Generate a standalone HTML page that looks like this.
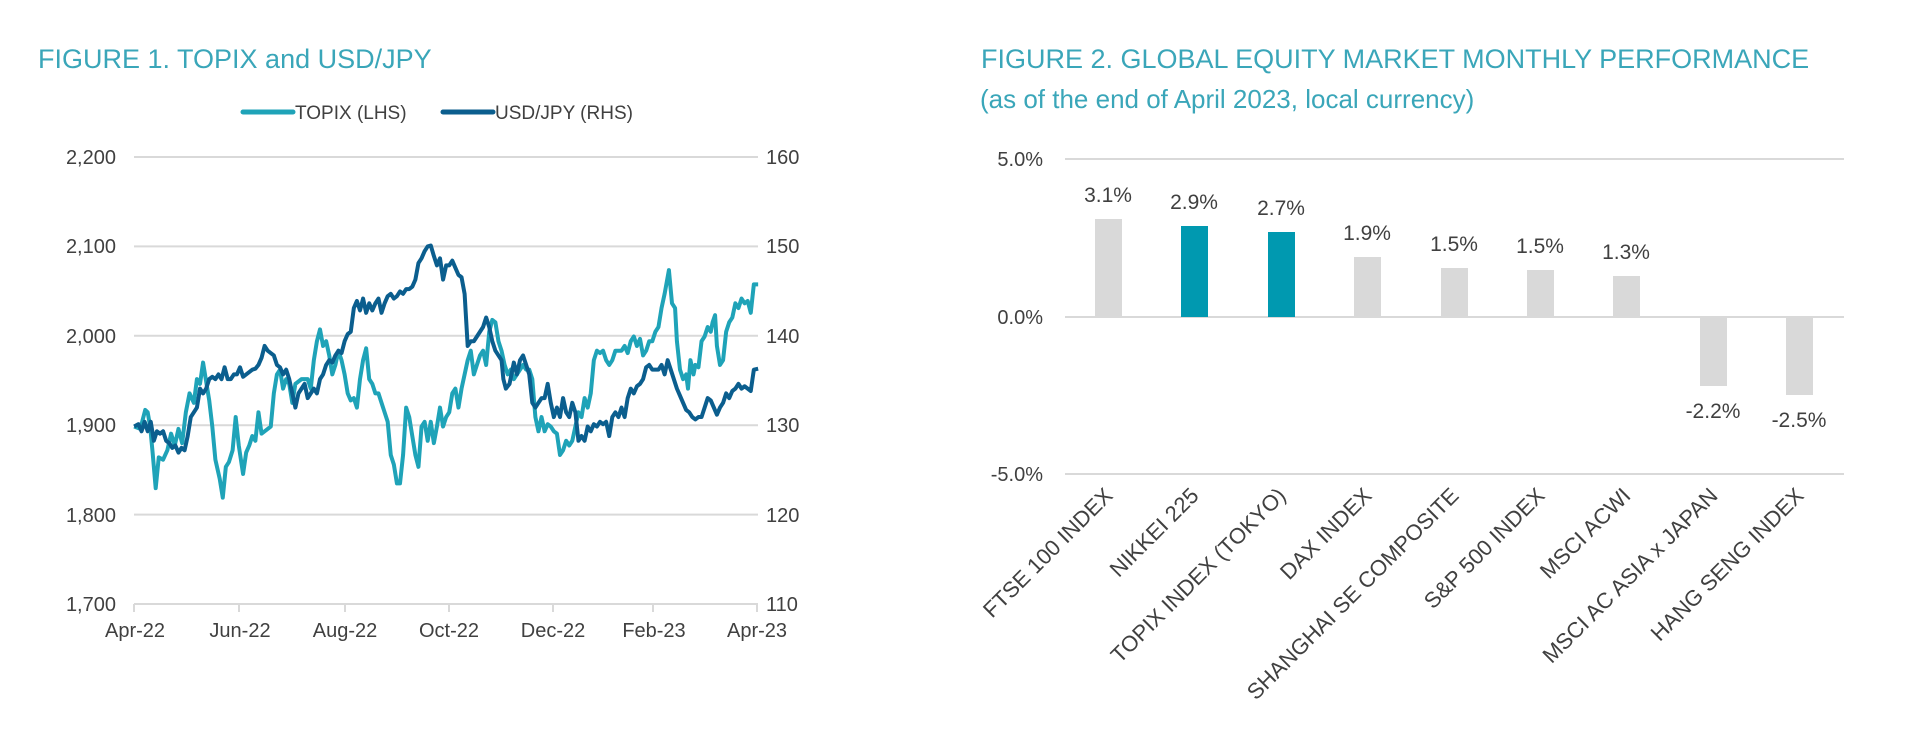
<!DOCTYPE html>
<html><head><meta charset="utf-8"><style>
html,body{margin:0;padding:0;background:#fff;}
body{width:1920px;height:739px;overflow:hidden;font-family:"Liberation Sans",sans-serif;}
</style></head><body>
<svg width="1920" height="739" viewBox="0 0 1920 739" xmlns="http://www.w3.org/2000/svg" font-family="Liberation Sans, sans-serif">
<!-- Figure 1 -->
<text x="38" y="68" font-size="27" fill="#3aa6b9">FIGURE 1. TOPIX and USD/JPY</text>
<line x1="243" y1="112" x2="293" y2="112" stroke="#1fa3b8" stroke-width="5" stroke-linecap="round"/>
<text x="295" y="119" font-size="19" fill="#404040">TOPIX (LHS)</text>
<line x1="443" y1="112" x2="493" y2="112" stroke="#0b5e8e" stroke-width="5" stroke-linecap="round"/>
<text x="495" y="119" font-size="19" fill="#404040">USD/JPY (RHS)</text>
<g stroke="#d9d9d9" stroke-width="2">
<line x1="134" y1="157" x2="758" y2="157"/>
<line x1="134" y1="246.4" x2="758" y2="246.4"/>
<line x1="134" y1="335.8" x2="758" y2="335.8"/>
<line x1="134" y1="425.2" x2="758" y2="425.2"/>
<line x1="134" y1="514.6" x2="758" y2="514.6"/>
<line x1="134" y1="604" x2="758" y2="604"/>
<line x1="134" y1="604" x2="134" y2="612"/><line x1="239" y1="604" x2="239" y2="612"/><line x1="345" y1="604" x2="345" y2="612"/><line x1="449" y1="604" x2="449" y2="612"/><line x1="553" y1="604" x2="553" y2="612"/><line x1="653" y1="604" x2="653" y2="612"/><line x1="757" y1="604" x2="757" y2="612"/>
</g>
<g font-size="20" fill="#404040" text-anchor="end">
<text x="116" y="164">2,200</text><text x="116" y="253">2,100</text><text x="116" y="343">2,000</text><text x="116" y="432">1,900</text><text x="116" y="522">1,800</text><text x="116" y="611">1,700</text>
</g>
<g font-size="20" fill="#404040">
<text x="766" y="164">160</text><text x="766" y="253">150</text><text x="766" y="343">140</text><text x="766" y="432">130</text><text x="766" y="522">120</text><text x="766" y="611">110</text>
</g>
<g font-size="20" fill="#404040" text-anchor="middle">
<text x="135" y="637">Apr-22</text><text x="240" y="637">Jun-22</text><text x="345" y="637">Aug-22</text><text x="449" y="637">Oct-22</text><text x="553" y="637">Dec-22</text><text x="654" y="637">Feb-23</text><text x="757" y="637">Apr-23</text>
</g>
<g transform="scale(0.61538,0.47393)" fill="none" stroke-linejoin="round">
<polyline vector-effect="non-scaling-stroke" stroke="#1fa3b8" stroke-width="4" points="218,900 228,905 236,865 240,870 244,900 248,955 253,1030 258,965 265,970 272,950 278,915 284,940 290,905 296,935 302,870 308,830 315,850 320,800 325,810 330,765 335,805 340,845 345,900 350,970 357,1010 362,1050 367,985 372,975 378,950 383,880 388,940 395,1000 400,955 405,940 410,920 415,930 420,870 425,915 430,910 440,900 445,830 450,790 455,780 460,820 465,800 470,810 475,850 480,810 490,800 500,800 505,820 510,760 515,720 520,695 525,730 530,720 535,750 540,790 545,770 550,740 555,760 560,790 565,830 570,845 575,840 580,860 585,800 590,760 595,735 600,800 605,810 610,830 615,830 620,850 625,870 630,890 635,960 640,980 645,1020 650,1020 655,960 660,860 665,880 670,920 675,960 680,985 685,900 690,890 695,930 700,890 705,935 710,900 715,860 720,900 725,880 730,870 735,830 740,820 745,860 750,820 755,790 760,760 765,740 770,790 775,770 780,750 785,740 790,770 795,700 800,675 805,680 810,720 815,740 820,770 825,790 830,780 835,800 840,790 850,770 855,780 860,780 865,800 870,880 875,910 880,880 885,910 890,895 895,900 900,910 905,915 910,960 915,950 920,930 925,940 930,930 935,900 940,870 945,880 950,840 955,860 960,830 965,760 970,740 975,745 980,740 985,760 990,770 995,760 1000,740 1010,740 1015,730 1020,745 1025,720 1030,710 1035,730 1040,715 1045,750 1050,740 1055,720 1060,720 1065,700 1070,690 1075,650 1080,620 1087,570 1092,640 1097,650 1100,720 1105,780 1110,800 1115,790 1118,820 1122,760 1127,790 1130,770 1135,775 1140,720 1145,710 1150,690 1155,700 1158,680 1162,665 1165,730 1170,770 1175,760 1180,700 1185,680 1190,670 1195,640 1200,650 1205,630 1210,640 1215,635 1220,660 1225,600 1232,600"/>
<polyline vector-effect="non-scaling-stroke" stroke="#0b5e8e" stroke-width="4" points="218,900 225,895 230,910 235,890 240,910 245,890 250,930 255,910 260,915 265,910 270,930 275,935 280,945 285,940 290,955 295,945 300,950 305,920 310,880 315,870 320,860 325,820 330,830 335,820 340,800 345,795 350,800 355,790 360,800 365,775 370,800 375,800 380,790 385,790 390,775 395,795 400,790 405,785 410,780 415,778 420,770 425,755 430,730 435,740 440,745 445,750 450,770 455,775 460,790 465,780 470,800 475,830 480,860 485,830 490,820 495,810 500,840 505,830 510,820 515,830 520,800 525,790 530,770 535,760 540,765 545,750 550,740 555,745 560,720 565,705 570,700 575,650 580,635 585,655 590,630 595,660 600,640 605,655 610,640 615,630 620,660 625,640 630,625 635,620 640,630 645,625 650,615 655,620 660,610 665,610 670,605 675,590 680,555 685,545 690,530 695,520 700,518 705,540 710,560 715,545 720,590 725,560 730,560 735,550 740,565 745,580 750,585 755,620 760,730 765,720 770,720 775,710 780,700 785,690 790,670 795,690 800,720 805,740 810,750 815,760 818,800 822,820 828,810 835,765 840,790 845,760 850,750 855,770 860,790 865,850 870,860 875,850 880,840 885,840 890,810 895,850 900,880 905,860 910,880 915,840 920,870 925,880 930,850 935,870 940,930 945,920 950,930 955,900 960,910 965,895 970,900 975,890 980,895 985,890 990,920 995,880 1000,870 1005,880 1010,860 1015,880 1020,840 1025,820 1030,830 1035,815 1040,810 1045,800 1050,775 1055,770 1060,780 1065,780 1070,780 1075,770 1080,790 1085,760 1090,780 1095,800 1100,820 1105,835 1110,850 1115,865 1120,870 1125,880 1130,885 1135,880 1140,880 1145,860 1150,840 1155,845 1160,860 1165,875 1170,860 1175,850 1180,830 1185,840 1190,825 1195,820 1200,810 1205,820 1210,815 1215,820 1220,825 1225,780 1232,778"/>
</g>

<!-- Figure 2 -->
<text x="981" y="68" font-size="27" fill="#3aa6b9">FIGURE 2. GLOBAL EQUITY MARKET MONTHLY PERFORMANCE</text>
<text x="980" y="108" font-size="26" fill="#3aa6b9">(as of the end of April 2023, local currency)</text>
<g stroke="#d9d9d9" stroke-width="2">
<line x1="1065" y1="159" x2="1844" y2="159"/>
<line x1="1065" y1="317" x2="1844" y2="317"/>
<line x1="1065" y1="474" x2="1844" y2="474"/>
</g>
<g font-size="20" fill="#404040" text-anchor="end">
<text x="1043" y="166">5.0%</text><text x="1043" y="324">0.0%</text><text x="1043" y="481">-5.0%</text>
</g>
<g>
<rect x="1095" y="219" width="27" height="98" fill="#d9d9d9"/>
<rect x="1181" y="226" width="27" height="91" fill="#0099b0"/>
<rect x="1268" y="232" width="27" height="85" fill="#0099b0"/>
<rect x="1354" y="257" width="27" height="60" fill="#d9d9d9"/>
<rect x="1441" y="268" width="27" height="49" fill="#d9d9d9"/>
<rect x="1527" y="270" width="27" height="47" fill="#d9d9d9"/>
<rect x="1613" y="276" width="27" height="41" fill="#d9d9d9"/>
<rect x="1700" y="317" width="27" height="69" fill="#d9d9d9"/>
<rect x="1786" y="317" width="27" height="78" fill="#d9d9d9"/>
</g>
<g font-size="21" fill="#404040" text-anchor="middle">
<text x="1108" y="202">3.1%</text><text x="1194" y="209">2.9%</text><text x="1281" y="215">2.7%</text><text x="1367" y="240">1.9%</text><text x="1454" y="251">1.5%</text><text x="1540" y="253">1.5%</text><text x="1626" y="259">1.3%</text><text x="1713" y="418">-2.2%</text><text x="1799" y="427">-2.5%</text>
</g>
<g font-size="22" fill="#404040" text-anchor="end">
<text transform="translate(1114,497) rotate(-45)">FTSE 100 INDEX</text>
<text transform="translate(1200,497) rotate(-45)">NIKKEI 225</text>
<text transform="translate(1287,497) rotate(-45)">TOPIX INDEX (TOKYO)</text>
<text transform="translate(1373,497) rotate(-45)">DAX INDEX</text>
<text transform="translate(1460,497) rotate(-45)">SHANGHAI SE COMPOSITE</text>
<text transform="translate(1546,497) rotate(-45)">S&amp;P 500 INDEX</text>
<text transform="translate(1632,497) rotate(-45)">MSCI ACWI</text>
<text transform="translate(1719,497) rotate(-45)">MSCI AC ASIA x JAPAN</text>
<text transform="translate(1805,497) rotate(-45)">HANG SENG INDEX</text>
</g>
</svg>
</body></html>
